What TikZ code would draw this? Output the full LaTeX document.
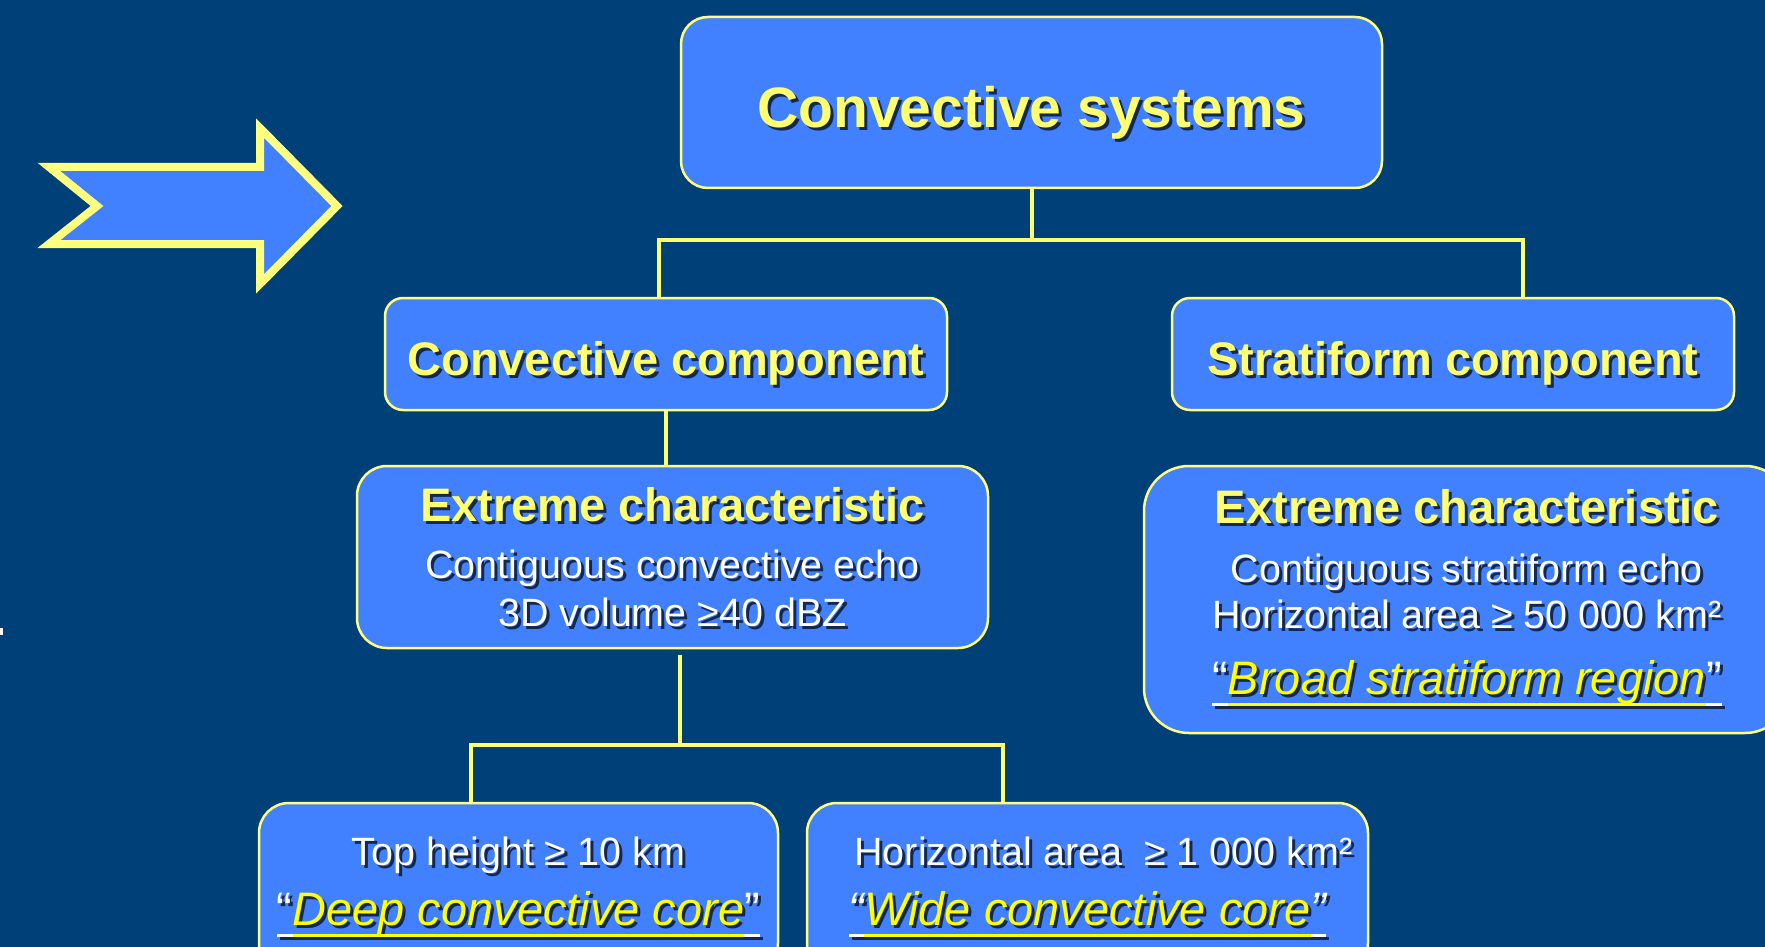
\documentclass[tikz,border=0pt]{standalone}
\usepackage{fontspec}
\setmainfont{Liberation Sans}
\usetikzlibrary{positioning}

\definecolor{bg}{HTML}{004078}
\definecolor{boxblue}{HTML}{4180FF}
\definecolor{edge}{HTML}{FFFF80}
\definecolor{linkyel}{HTML}{FFFF70}
\definecolor{headtxt}{HTML}{FFFF70}
\definecolor{hitxt}{HTML}{FFFF00}
\definecolor{plaintxt}{HTML}{FFFFFF}
\definecolor{shade}{HTML}{14284F}

\newlength{\ulw}
\newcommand{\ulx}[1]{\settowidth{\ulw}{#1}\rlap{\rule[-11.5pt]{\ulw}{3pt}}#1}
\newcommand{\headfont}{\fontsize{47}{48}\selectfont\bfseries}
\newcommand{\bodyfont}{\fontsize{39.5}{48}\selectfont}
% text with a dark drop shadow
\newcommand{\shd}[1]{\leavevmode\rlap{\kern3pt\raisebox{-3pt}{\colorlet{headtxt}{shade}\colorlet{hitxt}{shade}\colorlet{plaintxt}{shade}#1}}#1}
\newcommand{\quoted}[1]{\fontsize{47}{48}\selectfont{\color{plaintxt}\ulx{“}}{\color{hitxt}\itshape\ulx{#1}}{\color{plaintxt}\ulx{”}}}

\begin{document}
\begin{tikzpicture}[x=1pt,y=-1pt,
  panel/.style={draw=edge,line width=2.5pt,fill=boxblue,rounded corners=#1,
    align=center,inner sep=0pt,font=\bodyfont},
  panel/.default=20pt,
  link/.style={draw=linkyel,line width=4pt}]
\useasboundingbox (0,0) rectangle (1765,947);
\clip (0,0) rectangle (1765,947);
\fill[bg] (0,0) rectangle (1765,947);
\fill[white] (0,628) rectangle (3,635);
% pointer arrow
\draw[draw=edge,line width=8pt,fill=boxblue] (49,167) -- (260,167) -- (260,128) -- (337,206)
  -- (260,284) -- (260,244) -- (49,244) -- (97,206) -- cycle;

\node[panel=27pt,minimum width=701pt,minimum height=171pt,text height=50pt,text depth=0pt]
  (sys) at (1031.5,102.5)
  {\fontsize{57}{60}\selectfont\bfseries\shd{\color{headtxt}Convective systems}};
\node[panel=18pt,minimum width=562pt,minimum height=112pt,text height=42pt,text depth=0pt]
  (conv) at (666,354) {\headfont\shd{\color{headtxt}Convective component}};
\node[panel=18pt,minimum width=562pt,minimum height=112pt,text height=42pt,text depth=0pt]
  (strat) at (1453,354) {\headfont\shd{\color{headtxt}Stratiform component}};
\node[panel=30pt,minimum width=631pt,minimum height=182pt,text depth=-3pt] (extl) at (672.5,557)
  {{\headfont\shd{\color{headtxt}Extreme characteristic}}\\[9pt]
   \shd{\color{plaintxt}Contiguous convective echo}\\
   \shd{\color{plaintxt}3D volume ≥40 dBZ}};
\node[panel=45pt,minimum width=646pt,minimum height=267pt] (extr) at (1467,599.5)
  {{\headfont\shd{\color{headtxt}Extreme characteristic}}\\[11pt]
   \shd{\color{plaintxt}Contiguous stratiform echo}\\[-2pt]
   \shd{\color{plaintxt}Horizontal area ≥ 50~000 km²}\\[18pt]
   \shd{\quoted{Broad stratiform region}}};
\node[panel=30pt,minimum width=519pt,minimum height=170pt] (deep) at (518.5,888)
  {\shd{\color{plaintxt}Top height ≥ 10 km}\\[12pt]
   \shd{\quoted{Deep convective core}}};
\node[panel=30pt,minimum width=561pt,minimum height=170pt] (wide) at (1087.5,888)
  {\hspace*{32pt}\shd{\color{plaintxt}Horizontal area~~≥ 1~000 km²}\\[12pt]
   \shd{{\itshape\quoted{Wide convective core}}}};

\coordinate (jl) at (659,240);
\coordinate (jr) at (1523,240);
\draw[link] (sys.south) -- (sys.south |- jl);
\draw[link] (jl |- conv.north) -- (jl) -- (jr) -- (jr |- strat.north);
\draw[link] (conv.south) -- (conv.south |- extl.north);
\coordinate (kt) at (680,655);
\coordinate (kl) at (470.5,745);
\coordinate (kr) at (1003,745);
\draw[link] (kt) -- (kt |- kl);
\draw[link] (kl |- deep.north) -- (kl) -- (kr) -- (kr |- wide.north);
\end{tikzpicture}
\end{document}
